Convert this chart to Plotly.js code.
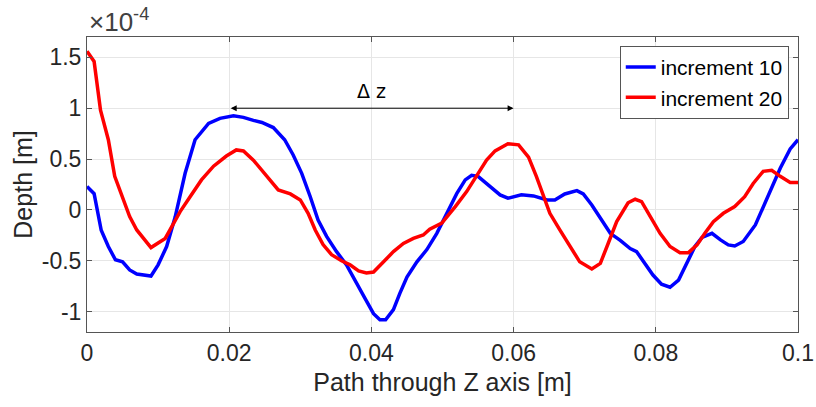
<!DOCTYPE html>
<html>
<head>
<meta charset="utf-8">
<script src="https://cdn.plot.ly/plotly-3.0.1.min.js"></script>
<style>html,body{margin:0;padding:0;background:#fff;}#chart{width:816px;height:407px;}</style>
</head>
<body>
<div id="chart"></div>
<script>
// Depth values in units of 1e-4 m
const blueX = [0,0.001,0.002,0.003,0.004,0.005,0.006,0.007,0.009,0.010,0.0112,0.0124,0.0138,0.0152,0.0171,0.0187,0.0206,0.022,0.0234,0.0246,0.0262,0.0278,0.029,0.0302,0.0314,0.0325,0.0337,0.0351,0.0365,0.0379,0.0391,0.0403,0.0412,0.042,0.0431,0.044,0.045,0.0464,0.0478,0.0492,0.0504,0.052,0.0532,0.0541,0.055,0.0567,0.0581,0.0592,0.0611,0.0628,0.0647,0.0658,0.0672,0.0689,0.0698,0.071,0.0722,0.0736,0.075,0.0764,0.0773,0.0785,0.0796,0.0808,0.082,0.0832,0.0843,0.0855,0.0865,0.0879,0.0891,0.0902,0.0911,0.0923,0.094,0.0951,0.0963,0.0975,0.0989,0.1];
const blueY = [0.23,0.16,-0.2,-0.36,-0.49,-0.51,-0.59,-0.63,-0.65,-0.54,-0.36,-0.07,0.36,0.69,0.85,0.90,0.925,0.91,0.88,0.86,0.81,0.69,0.54,0.36,0.13,-0.10,-0.26,-0.41,-0.54,-0.71,-0.87,-1.02,-1.08,-1.08,-0.98,-0.82,-0.66,-0.51,-0.39,-0.23,-0.07,0.16,0.295,0.34,0.33,0.23,0.148,0.115,0.148,0.138,0.098,0.098,0.157,0.19,0.157,0.049,-0.082,-0.23,-0.30,-0.38,-0.41,-0.525,-0.64,-0.73,-0.76,-0.69,-0.525,-0.36,-0.27,-0.23,-0.295,-0.344,-0.354,-0.31,-0.148,0.033,0.21,0.41,0.60,0.69];
const redX = [0,0.001,0.0019,0.003,0.0039,0.0049,0.006,0.007,0.0079,0.009,0.011,0.0119,0.0131,0.0145,0.0161,0.0178,0.0196,0.021,0.022,0.0234,0.025,0.0269,0.0286,0.03,0.0311,0.0321,0.0332,0.0344,0.0358,0.037,0.0382,0.0393,0.0403,0.0417,0.0431,0.0445,0.0459,0.0473,0.0482,0.0499,0.0511,0.0518,0.0534,0.0548,0.0562,0.0574,0.0592,0.0607,0.0621,0.0632,0.0642,0.0651,0.0665,0.0679,0.0693,0.071,0.0722,0.0733,0.0745,0.0761,0.0771,0.078,0.0792,0.0806,0.082,0.0834,0.0846,0.0858,0.0869,0.0881,0.0895,0.0911,0.0925,0.0937,0.0951,0.0963,0.0975,0.0989,0.1];
const redY = [1.56,1.46,0.98,0.69,0.33,0.13,-0.066,-0.197,-0.28,-0.37,-0.28,-0.16,-0.016,0.13,0.295,0.43,0.53,0.59,0.58,0.49,0.36,0.197,0.157,0.098,-0.033,-0.197,-0.34,-0.44,-0.50,-0.54,-0.60,-0.62,-0.61,-0.51,-0.41,-0.33,-0.28,-0.246,-0.19,-0.13,-0.033,0.033,0.18,0.33,0.49,0.58,0.65,0.64,0.52,0.33,0.13,-0.033,-0.197,-0.36,-0.51,-0.58,-0.525,-0.33,-0.115,0.07,0.105,0.082,-0.066,-0.23,-0.36,-0.42,-0.42,-0.344,-0.23,-0.115,-0.033,0.033,0.13,0.26,0.38,0.39,0.33,0.27,0.27];
const seriesNames = ["increment 10", "increment 20"];
const xTickVals = [0,0.02,0.04,0.06,0.08,0.1];
const xTickText = ["0","0.02","0.04","0.06","0.08","0.1"];
const yTickVals = [-1,-0.5,0,0.5,1,1.5];
const yTickText = ["-1","-0.5","0","0.5","1","1.5"];
const deltaStart = 0.02, deltaEnd = 0.06, deltaLevel = 1;

const axisColor = '#262626';
const fontFam = 'Arial, "Liberation Sans", sans-serif';
const traces = [
  {x: blueX, y: blueY, name: seriesNames[0], mode: 'lines', line: {color: '#0000ff', width: 3.5}},
  {x: redX, y: redY, name: seriesNames[1], mode: 'lines', line: {color: '#ff0000', width: 3.5}}
];
const layout = {
  width: 816, height: 407,
  margin: {l: 87, r: 18, t: 37, b: 75},
  paper_bgcolor: '#fff', plot_bgcolor: '#fff',
  showlegend: true,
  font: {family: fontFam, color: axisColor, size: 20},
  xaxis: {
    range: [0, 0.1], tickvals: xTickVals, ticktext: xTickText,
    showgrid: true, gridcolor: '#e6e6e6', zeroline: false,
    showline: true, linecolor: '#555', linewidth: 1, mirror: 'ticks',
    ticks: 'inside', ticklen: 5, tickcolor: '#555',
    tickfont: {size: 23, color: axisColor},
    title: {text: 'Path through Z axis [m]', standoff: 8, font: {size: 25, color: axisColor}}
  },
  yaxis: {
    range: [-1.2, 1.7], tickvals: yTickVals, ticktext: yTickText,
    showgrid: true, gridcolor: '#e6e6e6', zeroline: false,
    showline: true, linecolor: '#555', linewidth: 1, mirror: 'ticks',
    ticks: 'inside', ticklen: 5, tickcolor: '#555',
    tickfont: {size: 23, color: axisColor},
    title: {text: 'Depth [m]', standoff: 2, font: {size: 25, color: axisColor}}
  },
  legend: {
    x: 0.987, y: 0.97, xanchor: 'right', yanchor: 'top',
    bgcolor: '#fff', bordercolor: '#555', borderwidth: 1,
    font: {size: 21, color: '#000'}, tracegroupgap: 0, itemwidth: 30
  },
  annotations: [
    {xref: 'paper', yref: 'paper', x: 0, y: 1, xanchor: 'left', yanchor: 'bottom', yshift: -2,
     text: '×10<sup>-4</sup>', showarrow: false, font: {size: 26, color: '#404040'}},
    {x: deltaEnd, y: deltaLevel, ax: deltaStart, ay: deltaLevel, xref: 'x', yref: 'y', axref: 'x', ayref: 'y',
     text: '', showarrow: true, arrowhead: 2, startarrowhead: 2, arrowside: 'end+start', arrowsize: 1.2, arrowwidth: 1, arrowcolor: '#000'},
    {x: (deltaStart + deltaEnd) / 2, y: deltaLevel, xref: 'x', yref: 'y', yanchor: 'bottom', yshift: 4,
     text: 'Δ z', showarrow: false, font: {family: '"DejaVu Sans", sans-serif', size: 19, color: '#000'}}
  ]
};
Plotly.newPlot('chart', traces, layout, {displayModeBar: false, staticPlot: true});
</script>
</body>
</html>
